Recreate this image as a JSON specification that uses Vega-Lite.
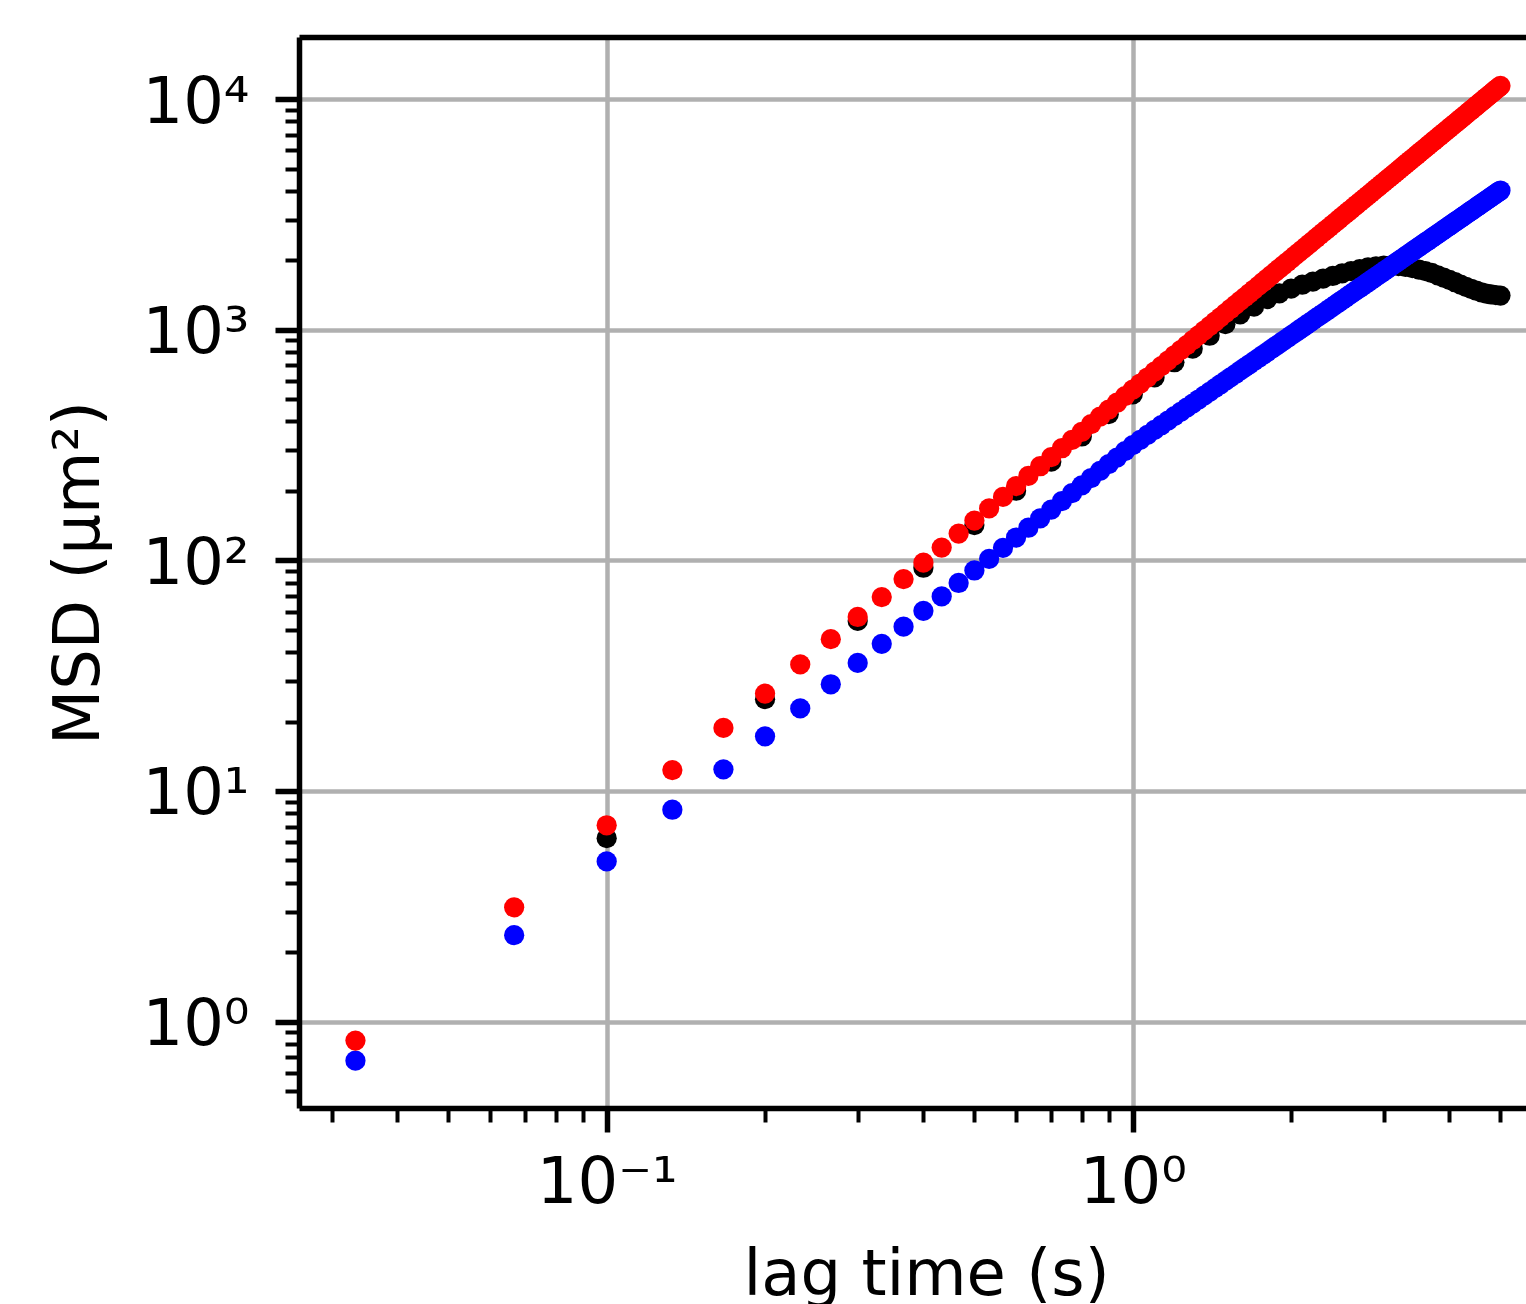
{
"$schema": "https://vega.github.io/schema/vega-lite/v6.json",
"width": 1227,
"height": 1071,
"autosize": {"type": "none"},
"padding": {"left": 299, "top": 37, "right": 0, "bottom": 196},
"background": "white",
"config": {"view": {"stroke": null}, "font": "DejaVu Sans"},
"resolve": {"axis": {"x": "independent"}},
"layer": [
{
"data": {"values": [
{"t":0.1,"s":"black","m":6.24},{"t":0.2,"s":"black","m":25.0},{"t":0.3,"s":"black","m":54.6},{"t":0.4,"s":"black","m":92.9},{"t":0.5,"s":"black","m":142.2},
{"t":0.6,"s":"black","m":200.4},{"t":0.7,"s":"black","m":267.9},{"t":0.8,"s":"black","m":344.4},{"t":0.9,"s":"black","m":430.5},{"t":1.0,"s":"black","m":524.8},
{"t":1.1,"s":"black","m":620.9},{"t":1.2,"s":"black","m":722.8},{"t":1.3,"s":"black","m":827.9},{"t":1.4,"s":"black","m":941.9},{"t":1.5,"s":"black","m":1057},
{"t":1.6,"s":"black","m":1167},{"t":1.7,"s":"black","m":1259},{"t":1.8,"s":"black","m":1358},{"t":1.9,"s":"black","m":1439},{"t":2.0,"s":"black","m":1507},
{"t":2.1,"s":"black","m":1567},{"t":2.2,"s":"black","m":1618},{"t":2.3,"s":"black","m":1667},{"t":2.4,"s":"black","m":1710},{"t":2.5,"s":"black","m":1754},
{"t":2.6,"s":"black","m":1795},{"t":2.7,"s":"black","m":1832},{"t":2.8,"s":"black","m":1862},{"t":2.9,"s":"black","m":1884},{"t":3.0,"s":"black","m":1897},
{"t":3.1,"s":"black","m":1897},{"t":3.2,"s":"black","m":1888},{"t":3.3,"s":"black","m":1871},{"t":3.4,"s":"black","m":1849},{"t":3.5,"s":"black","m":1824},
{"t":3.6,"s":"black","m":1795},{"t":3.7,"s":"black","m":1762},{"t":3.8,"s":"black","m":1722},{"t":3.9,"s":"black","m":1683},{"t":4.0,"s":"black","m":1644},
{"t":4.1,"s":"black","m":1607},{"t":4.2,"s":"black","m":1570},{"t":4.3,"s":"black","m":1535},{"t":4.4,"s":"black","m":1503},{"t":4.5,"s":"black","m":1476},
{"t":4.6,"s":"black","m":1452},{"t":4.7,"s":"black","m":1435},{"t":4.8,"s":"black","m":1422},{"t":4.9,"s":"black","m":1413},{"t":5.0,"s":"black","m":1406},
{"t":0.0333,"s":"blue","m":0.677},{"t":0.0333,"s":"red","m":0.827},
{"t":0.0667,"s":"blue","m":2.37},{"t":0.0667,"s":"red","m":3.13},
{"t":0.1,"s":"blue","m":4.95},{"t":0.1,"s":"red","m":7.1},
{"t":0.1333,"s":"blue","m":8.29},{"t":0.1333,"s":"red","m":12.32},
{"t":0.1667,"s":"blue","m":12.41},{"t":0.1667,"s":"red","m":18.76},
{"t":0.2,"s":"blue","m":17.25},{"t":0.2,"s":"red","m":26.45},
{"t":0.2333,"s":"blue","m":22.8},{"t":0.2333,"s":"red","m":35.37},
{"t":0.2667,"s":"blue","m":29.02},{"t":0.2667,"s":"red","m":45.5},
{"t":0.3,"s":"blue","m":35.9},{"t":0.3,"s":"red","m":56.8},
{"t":0.3333,"s":"blue","m":43.43},{"t":0.3333,"s":"red","m":69.28},
{"t":0.3667,"s":"blue","m":51.59},{"t":0.3667,"s":"red","m":82.9},
{"t":0.4,"s":"blue","m":60.38},{"t":0.4,"s":"red","m":97.7},
{"t":0.4333,"s":"blue","m":69.78},{"t":0.4333,"s":"red","m":113.6},
{"t":0.4667,"s":"blue","m":79.78},{"t":0.4667,"s":"red","m":130.6},
{"t":0.5,"s":"blue","m":90.36},{"t":0.5,"s":"red","m":148.8},
{"t":0.5333,"s":"blue","m":101.5},{"t":0.5333,"s":"red","m":168.0},
{"t":0.5667,"s":"blue","m":113.3},{"t":0.5667,"s":"red","m":188.4},
{"t":0.6,"s":"blue","m":125.6},{"t":0.6,"s":"red","m":209.8},
{"t":0.6333,"s":"blue","m":138.5},{"t":0.6333,"s":"red","m":232.3},
{"t":0.6667,"s":"blue","m":152.0},{"t":0.6667,"s":"red","m":255.9},
{"t":0.7,"s":"blue","m":166.0},{"t":0.7,"s":"red","m":280.5},
{"t":0.7333,"s":"blue","m":180.6},{"t":0.7333,"s":"red","m":306.3},
{"t":0.7667,"s":"blue","m":195.6},{"t":0.7667,"s":"red","m":333.0},
{"t":0.8,"s":"blue","m":211.3},{"t":0.8,"s":"red","m":360.8},
{"t":0.8333,"s":"blue","m":227.5},{"t":0.8333,"s":"red","m":389.7},
{"t":0.8667,"s":"blue","m":244.2},{"t":0.8667,"s":"red","m":419.6},
{"t":0.9,"s":"blue","m":261.4},{"t":0.9,"s":"red","m":450.5},
{"t":0.9333,"s":"blue","m":279.1},{"t":0.9333,"s":"red","m":482.5},
{"t":0.9667,"s":"blue","m":297.4},{"t":0.9667,"s":"red","m":515.5},
{"t":1.0,"s":"blue","m":316.2},{"t":1.0,"s":"red","m":549.5},
{"t":1.0333,"s":"blue","m":333.0},{"t":1.0333,"s":"red","m":584.5},
{"t":1.0667,"s":"blue","m":350.2},{"t":1.0667,"s":"red","m":620.6},
{"t":1.1,"s":"blue","m":367.6},{"t":1.1,"s":"red","m":657.6},
{"t":1.1333,"s":"blue","m":385.3},{"t":1.1333,"s":"red","m":695.7},
{"t":1.1667,"s":"blue","m":403.4},{"t":1.1667,"s":"red","m":734.9},
{"t":1.2,"s":"blue","m":421.7},{"t":1.2,"s":"red","m":774.8},
{"t":1.2333,"s":"blue","m":440.4},{"t":1.2333,"s":"red","m":816.0},
{"t":1.2667,"s":"blue","m":459.3},{"t":1.2667,"s":"red","m":858.0},
{"t":1.3,"s":"blue","m":478.5},{"t":1.3,"s":"red","m":901.2},
{"t":1.3333,"s":"blue","m":498.1},{"t":1.3333,"s":"red","m":945.1},
{"t":1.3667,"s":"blue","m":517.8},{"t":1.3667,"s":"red","m":990.2},
{"t":1.4,"s":"blue","m":537.9},{"t":1.4,"s":"red","m":1036},
{"t":1.4333,"s":"blue","m":558.3},{"t":1.4333,"s":"red","m":1083},
{"t":1.4667,"s":"blue","m":578.9},{"t":1.4667,"s":"red","m":1131},
{"t":1.5,"s":"blue","m":599.9},{"t":1.5,"s":"red","m":1180},
{"t":1.5333,"s":"blue","m":621.0},{"t":1.5333,"s":"red","m":1230},
{"t":1.5667,"s":"blue","m":642.5},{"t":1.5667,"s":"red","m":1281},
{"t":1.6,"s":"blue","m":664.2},{"t":1.6,"s":"red","m":1333},
{"t":1.6333,"s":"blue","m":686.3},{"t":1.6333,"s":"red","m":1386},
{"t":1.6667,"s":"blue","m":708.4},{"t":1.6667,"s":"red","m":1439},
{"t":1.7,"s":"blue","m":731.0},{"t":1.7,"s":"red","m":1494},
{"t":1.7333,"s":"blue","m":753.7},{"t":1.7333,"s":"red","m":1550},
{"t":1.7667,"s":"blue","m":776.8},{"t":1.7667,"s":"red","m":1607},
{"t":1.8,"s":"blue","m":800.0},{"t":1.8,"s":"red","m":1664},
{"t":1.8333,"s":"blue","m":823.6},{"t":1.8333,"s":"red","m":1723},
{"t":1.8667,"s":"blue","m":847.2},{"t":1.8667,"s":"red","m":1782},
{"t":1.9,"s":"blue","m":871.2},{"t":1.9,"s":"red","m":1843},
{"t":1.9333,"s":"blue","m":895.6},{"t":1.9333,"s":"red","m":1904},
{"t":1.9667,"s":"blue","m":920.0},{"t":1.9667,"s":"red","m":1966},
{"t":2.0,"s":"blue","m":944.7},{"t":2.0,"s":"red","m":2030},
{"t":2.0333,"s":"blue","m":969.8},{"t":2.0333,"s":"red","m":2094},
{"t":2.0667,"s":"blue","m":994.9},{"t":2.0667,"s":"red","m":2159},
{"t":2.1,"s":"blue","m":1020},{"t":2.1,"s":"red","m":2225},
{"t":2.1333,"s":"blue","m":1046},{"t":2.1333,"s":"red","m":2292},
{"t":2.1667,"s":"blue","m":1072},{"t":2.1667,"s":"red","m":2360},
{"t":2.2,"s":"blue","m":1098},{"t":2.2,"s":"red","m":2429},
{"t":2.2333,"s":"blue","m":1125},{"t":2.2333,"s":"red","m":2499},
{"t":2.2667,"s":"blue","m":1151},{"t":2.2667,"s":"red","m":2570},
{"t":2.3,"s":"blue","m":1178},{"t":2.3,"s":"red","m":2641},
{"t":2.3333,"s":"blue","m":1205},{"t":2.3333,"s":"red","m":2714},
{"t":2.3667,"s":"blue","m":1233},{"t":2.3667,"s":"red","m":2787},
{"t":2.4,"s":"blue","m":1260},{"t":2.4,"s":"red","m":2862},
{"t":2.4333,"s":"blue","m":1288},{"t":2.4333,"s":"red","m":2938},
{"t":2.4667,"s":"blue","m":1316},{"t":2.4667,"s":"red","m":3014},
{"t":2.5,"s":"blue","m":1344},{"t":2.5,"s":"red","m":3091},
{"t":2.5333,"s":"blue","m":1372},{"t":2.5333,"s":"red","m":3169},
{"t":2.5667,"s":"blue","m":1401},{"t":2.5667,"s":"red","m":3248},
{"t":2.6,"s":"blue","m":1430},{"t":2.6,"s":"red","m":3328},
{"t":2.6333,"s":"blue","m":1459},{"t":2.6333,"s":"red","m":3409},
{"t":2.6667,"s":"blue","m":1488},{"t":2.6667,"s":"red","m":3491},
{"t":2.7,"s":"blue","m":1517},{"t":2.7,"s":"red","m":3574},
{"t":2.7333,"s":"blue","m":1547},{"t":2.7333,"s":"red","m":3657},
{"t":2.7667,"s":"blue","m":1577},{"t":2.7667,"s":"red","m":3742},
{"t":2.8,"s":"blue","m":1607},{"t":2.8,"s":"red","m":3827},
{"t":2.8333,"s":"blue","m":1638},{"t":2.8333,"s":"red","m":3914},
{"t":2.8667,"s":"blue","m":1668},{"t":2.8667,"s":"red","m":4000},
{"t":2.9,"s":"blue","m":1699},{"t":2.9,"s":"red","m":4089},
{"t":2.9333,"s":"blue","m":1730},{"t":2.9333,"s":"red","m":4177},
{"t":2.9667,"s":"blue","m":1761},{"t":2.9667,"s":"red","m":4268},
{"t":3.0,"s":"blue","m":1792},{"t":3.0,"s":"red","m":4358},
{"t":3.0333,"s":"blue","m":1824},{"t":3.0333,"s":"red","m":4450},
{"t":3.0667,"s":"blue","m":1856},{"t":3.0667,"s":"red","m":4543},
{"t":3.1,"s":"blue","m":1888},{"t":3.1,"s":"red","m":4637},
{"t":3.1333,"s":"blue","m":1920},{"t":3.1333,"s":"red","m":4732},
{"t":3.1667,"s":"blue","m":1952},{"t":3.1667,"s":"red","m":4826},
{"t":3.2,"s":"blue","m":1984},{"t":3.2,"s":"red","m":4923},
{"t":3.2333,"s":"blue","m":2017},{"t":3.2333,"s":"red","m":5020},
{"t":3.2667,"s":"blue","m":2050},{"t":3.2667,"s":"red","m":5118},
{"t":3.3,"s":"blue","m":2084},{"t":3.3,"s":"red","m":5217},
{"t":3.3333,"s":"blue","m":2116},{"t":3.3333,"s":"red","m":5316},
{"t":3.3667,"s":"blue","m":2150},{"t":3.3667,"s":"red","m":5416},
{"t":3.4,"s":"blue","m":2184},{"t":3.4,"s":"red","m":5518},
{"t":3.4333,"s":"blue","m":2218},{"t":3.4333,"s":"red","m":5621},
{"t":3.4667,"s":"blue","m":2252},{"t":3.4667,"s":"red","m":5724},
{"t":3.5,"s":"blue","m":2286},{"t":3.5,"s":"red","m":5828},
{"t":3.5333,"s":"blue","m":2321},{"t":3.5333,"s":"red","m":5933},
{"t":3.5667,"s":"blue","m":2355},{"t":3.5667,"s":"red","m":6039},
{"t":3.6,"s":"blue","m":2390},{"t":3.6,"s":"red","m":6146},
{"t":3.6333,"s":"blue","m":2425},{"t":3.6333,"s":"red","m":6255},
{"t":3.6667,"s":"blue","m":2460},{"t":3.6667,"s":"red","m":6362},
{"t":3.7,"s":"blue","m":2496},{"t":3.7,"s":"red","m":6471},
{"t":3.7333,"s":"blue","m":2532},{"t":3.7333,"s":"red","m":6583},
{"t":3.7667,"s":"blue","m":2567},{"t":3.7667,"s":"red","m":6694},
{"t":3.8,"s":"blue","m":2603},{"t":3.8,"s":"red","m":6806},
{"t":3.8333,"s":"blue","m":2639},{"t":3.8333,"s":"red","m":6918},
{"t":3.8667,"s":"blue","m":2676},{"t":3.8667,"s":"red","m":7032},
{"t":3.9,"s":"blue","m":2712},{"t":3.9,"s":"red","m":7147},
{"t":3.9333,"s":"blue","m":2749},{"t":3.9333,"s":"red","m":7263},
{"t":3.9667,"s":"blue","m":2786},{"t":3.9667,"s":"red","m":7379},
{"t":4.0,"s":"blue","m":2823},{"t":4.0,"s":"red","m":7497},
{"t":4.0333,"s":"blue","m":2860},{"t":4.0333,"s":"red","m":7616},
{"t":4.0667,"s":"blue","m":2897},{"t":4.0667,"s":"red","m":7734},
{"t":4.1,"s":"blue","m":2935},{"t":4.1,"s":"red","m":7854},
{"t":4.1333,"s":"blue","m":2972},{"t":4.1333,"s":"red","m":7974},
{"t":4.1667,"s":"blue","m":3011},{"t":4.1667,"s":"red","m":8097},
{"t":4.2,"s":"blue","m":3049},{"t":4.2,"s":"red","m":8219},
{"t":4.2333,"s":"blue","m":3087},{"t":4.2333,"s":"red","m":8343},
{"t":4.2667,"s":"blue","m":3125},{"t":4.2667,"s":"red","m":8466},
{"t":4.3,"s":"blue","m":3164},{"t":4.3,"s":"red","m":8592},
{"t":4.3333,"s":"blue","m":3203},{"t":4.3333,"s":"red","m":8718},
{"t":4.3667,"s":"blue","m":3242},{"t":4.3667,"s":"red","m":8845},
{"t":4.4,"s":"blue","m":3281},{"t":4.4,"s":"red","m":8972},
{"t":4.4333,"s":"blue","m":3320},{"t":4.4333,"s":"red","m":9101},
{"t":4.4667,"s":"blue","m":3360},{"t":4.4667,"s":"red","m":9230},
{"t":4.5,"s":"blue","m":3399},{"t":4.5,"s":"red","m":9360},
{"t":4.5333,"s":"blue","m":3440},{"t":4.5333,"s":"red","m":9491},
{"t":4.5667,"s":"blue","m":3479},{"t":4.5667,"s":"red","m":9623},
{"t":4.6,"s":"blue","m":3520},{"t":4.6,"s":"red","m":9757},
{"t":4.6333,"s":"blue","m":3560},{"t":4.6333,"s":"red","m":9890},
{"t":4.6667,"s":"blue","m":3601},{"t":4.6667,"s":"red","m":10025},
{"t":4.7,"s":"blue","m":3642},{"t":4.7,"s":"red","m":10160},
{"t":4.7333,"s":"blue","m":3682},{"t":4.7333,"s":"red","m":10296},
{"t":4.7667,"s":"blue","m":3723},{"t":4.7667,"s":"red","m":10432},
{"t":4.8,"s":"blue","m":3765},{"t":4.8,"s":"red","m":10570},
{"t":4.8333,"s":"blue","m":3805},{"t":4.8333,"s":"red","m":10710},
{"t":4.8667,"s":"blue","m":3847},{"t":4.8667,"s":"red","m":10849},
{"t":4.9,"s":"blue","m":3889},{"t":4.9,"s":"red","m":10990},
{"t":4.9333,"s":"blue","m":3931},{"t":4.9333,"s":"red","m":11130},
{"t":4.9667,"s":"blue","m":3973},{"t":4.9667,"s":"red","m":11274},
{"t":5.0,"s":"blue","m":4015},{"t":5.0,"s":"red","m":11415}
]},
"mark": {"type": "circle", "size": 410, "opacity": 1},
"encoding": {
"x": {"field": "t", "type": "quantitative",
"scale": {"type": "log", "domain": [0.02601, 5.591]},
"axis": {
"values": [0.03,0.04,0.05,0.06,0.07,0.08,0.09,0.1,0.2,0.3,0.4,0.5,0.6,0.7,0.8,0.9,1,2,3,4,5],
"labelExpr": "datum.value == 0.1 ? '10⁻¹' : datum.value == 1 ? '10⁰' : ''",
"labelFont": "DejaVu Sans", "labelFontSize": 64, "labelColor": "black",
"labelPadding": 19, "labelOverlap": false, "labelFlush": false, "labelBound": false,
"domainColor": "black", "domainWidth": 5.5,
"tickColor": "black",
"tickSize": {"condition": {"test": "datum.value == 0.1 || datum.value == 1", "value": 24}, "value": 14},
"tickWidth": {"condition": {"test": "datum.value == 0.1 || datum.value == 1", "value": 5.5}, "value": 4},
"grid": true, "gridColor": "#b0b0b0", "gridWidth": 4.5,
"gridOpacity": {"condition": {"test": "datum.value == 0.1 || datum.value == 1", "value": 1}, "value": 0},
"title": "lag time (s)",
"titleFont": "DejaVu Sans", "titleFontSize": 64, "titleFontWeight": "normal", "titleColor": "black",
"titleX": 627, "titleY": 186, "titleAlign": "center", "titleBaseline": "alphabetic"
}},
"y": {"field": "m", "type": "quantitative",
"scale": {"type": "log", "domain": [0.4219, 18593]},
"axis": {
"values": [0.5,0.6,0.7,0.8,0.9,1,2,3,4,5,6,7,8,9,10,20,30,40,50,60,70,80,90,100,200,300,400,500,600,700,800,900,1000,2000,3000,4000,5000,6000,7000,8000,9000,10000],
"labelExpr": "datum.value == 1 ? '10⁰' : datum.value == 10 ? '10¹' : datum.value == 100 ? '10²' : datum.value == 1000 ? '10³' : datum.value == 10000 ? '10⁴' : ''",
"labelFont": "DejaVu Sans", "labelFontSize": 64, "labelColor": "black",
"labelPadding": 26, "labelOffset": 4, "labelOverlap": false, "labelFlush": false, "labelBound": false,
"domainColor": "black", "domainWidth": 5.5,
"tickColor": "black",
"tickSize": {"condition": {"test": "datum.value == 1 || datum.value == 10 || datum.value == 100 || datum.value == 1000 || datum.value == 10000", "value": 24}, "value": 14},
"tickWidth": {"condition": {"test": "datum.value == 1 || datum.value == 10 || datum.value == 100 || datum.value == 1000 || datum.value == 10000", "value": 5.5}, "value": 4},
"grid": true, "gridColor": "#b0b0b0", "gridWidth": 4.5,
"gridOpacity": {"condition": {"test": "datum.value == 1 || datum.value == 10 || datum.value == 100 || datum.value == 1000 || datum.value == 10000", "value": 1}, "value": 0},
"title": "MSD (μm²)",
"titleFont": "DejaVu Sans", "titleFontSize": 64, "titleFontWeight": "normal", "titleColor": "black",
"titleAngle": -90, "titleX": -200.7, "titleY": 535.5, "titleAlign": "center", "titleBaseline": "alphabetic"
}},
"color": {"field": "s", "type": "nominal",
"scale": {"domain": ["black","blue","red"], "range": ["#000000","#0000ff","#ff0000"]},
"legend": null}
}
},
{
"data": {"values": [{}]},
"mark": {"type": "rule", "opacity": 0},
"encoding": {
"x": {"datum": 1, "type": "quantitative",
"scale": {"type": "log", "domain": [0.02601, 5.591]},
"axis": {"orient": "top", "domain": true, "domainColor": "black", "domainWidth": 5.5, "ticks": false, "labels": false, "grid": false, "title": null}}
}
}
]
}
